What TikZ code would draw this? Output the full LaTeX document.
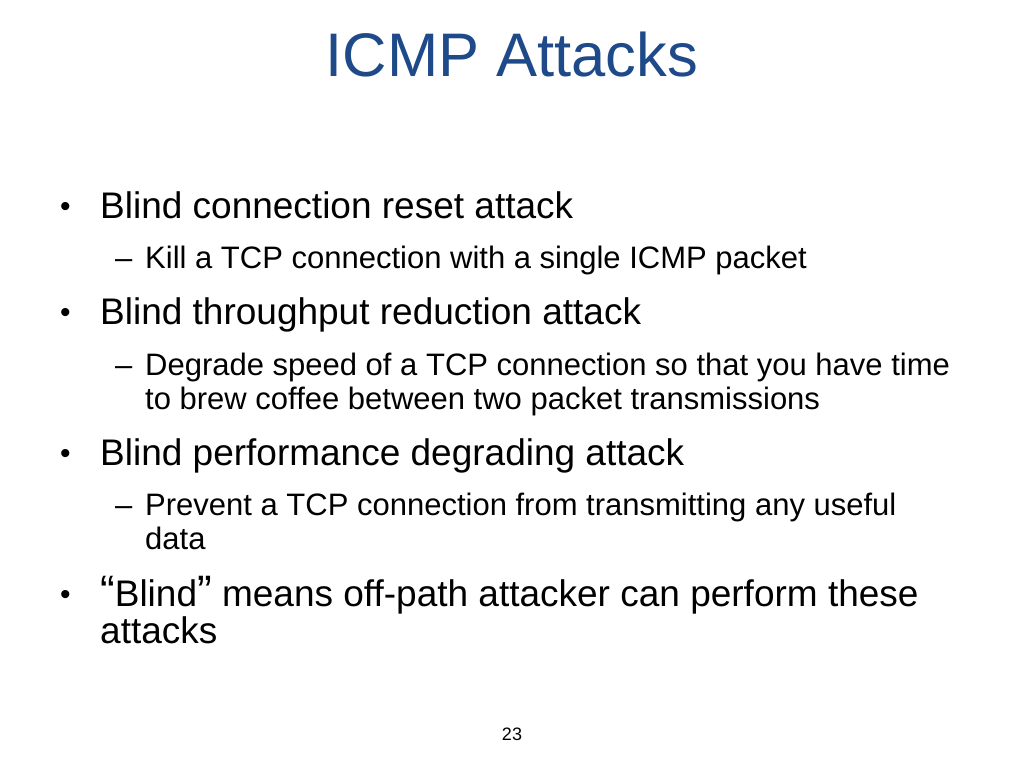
\documentclass[tikz,border=0pt]{standalone}
\usepackage{fontspec}
\setmainfont{Liberation Sans}
\definecolor{titleblue}{HTML}{1F4A8A}
\begin{document}
\begin{tikzpicture}[x=1pt,y=-1pt,
  lone/.style={anchor=base west,inner sep=0pt,font=\fontsize{37}{42}\selectfont},
  dot/.style={anchor=base west,inner sep=0pt,font=\fontsize{30}{34}\selectfont},
  ltwo/.style={anchor=base west,inner sep=0pt,font=\fontsize{31}{36}\selectfont}]
\useasboundingbox (0,0) rectangle (1024,768);
\node[anchor=base,inner sep=0pt,text=titleblue,font=\fontsize{61.5}{66}\selectfont] (title) at (512,76) {ICMP Attacks};
\node[dot] (b1d) at (60,216) {•};
\node[lone] (b1) at (100,218) {Blind connection reset attack};
\node[ltwo] (s1d) at (115,268) {–};
\node[ltwo] (s1) at (145,268) {Kill a TCP connection with a single ICMP packet};
\node[dot] (b2d) at (60,322) {•};
\node[lone] (b2) at (100,324) {Blind throughput reduction attack};
\node[ltwo] (s2d) at (115,375) {–};
\node[ltwo] (s2) at (145,375) {Degrade speed of a TCP connection so that you have time};
\node[ltwo] (s2b) at (145,409) {to brew coffee between two packet transmissions};
\node[dot] (b3d) at (60,463) {•};
\node[lone] (b3) at (100,465) {Blind performance degrading attack};
\node[ltwo] (s3d) at (115,515) {–};
\node[ltwo] (s3) at (145,515) {Prevent a TCP connection from transmitting any useful};
\node[ltwo] (s3b) at (145,549) {data};
\node[dot] (b4d) at (60,604) {•};
\node[lone] (b4) at (100,606) {{\fontsize{44}{44}\selectfont“}Blind{\fontsize{44}{44}\selectfont”} means off-path attacker can perform these};
\node[lone] (b4b) at (100,643) {attacks};
\node[anchor=base,inner sep=0pt,font=\fontsize{18}{22}\selectfont] (pg) at (512,740) {23};
\end{tikzpicture}
\end{document}
